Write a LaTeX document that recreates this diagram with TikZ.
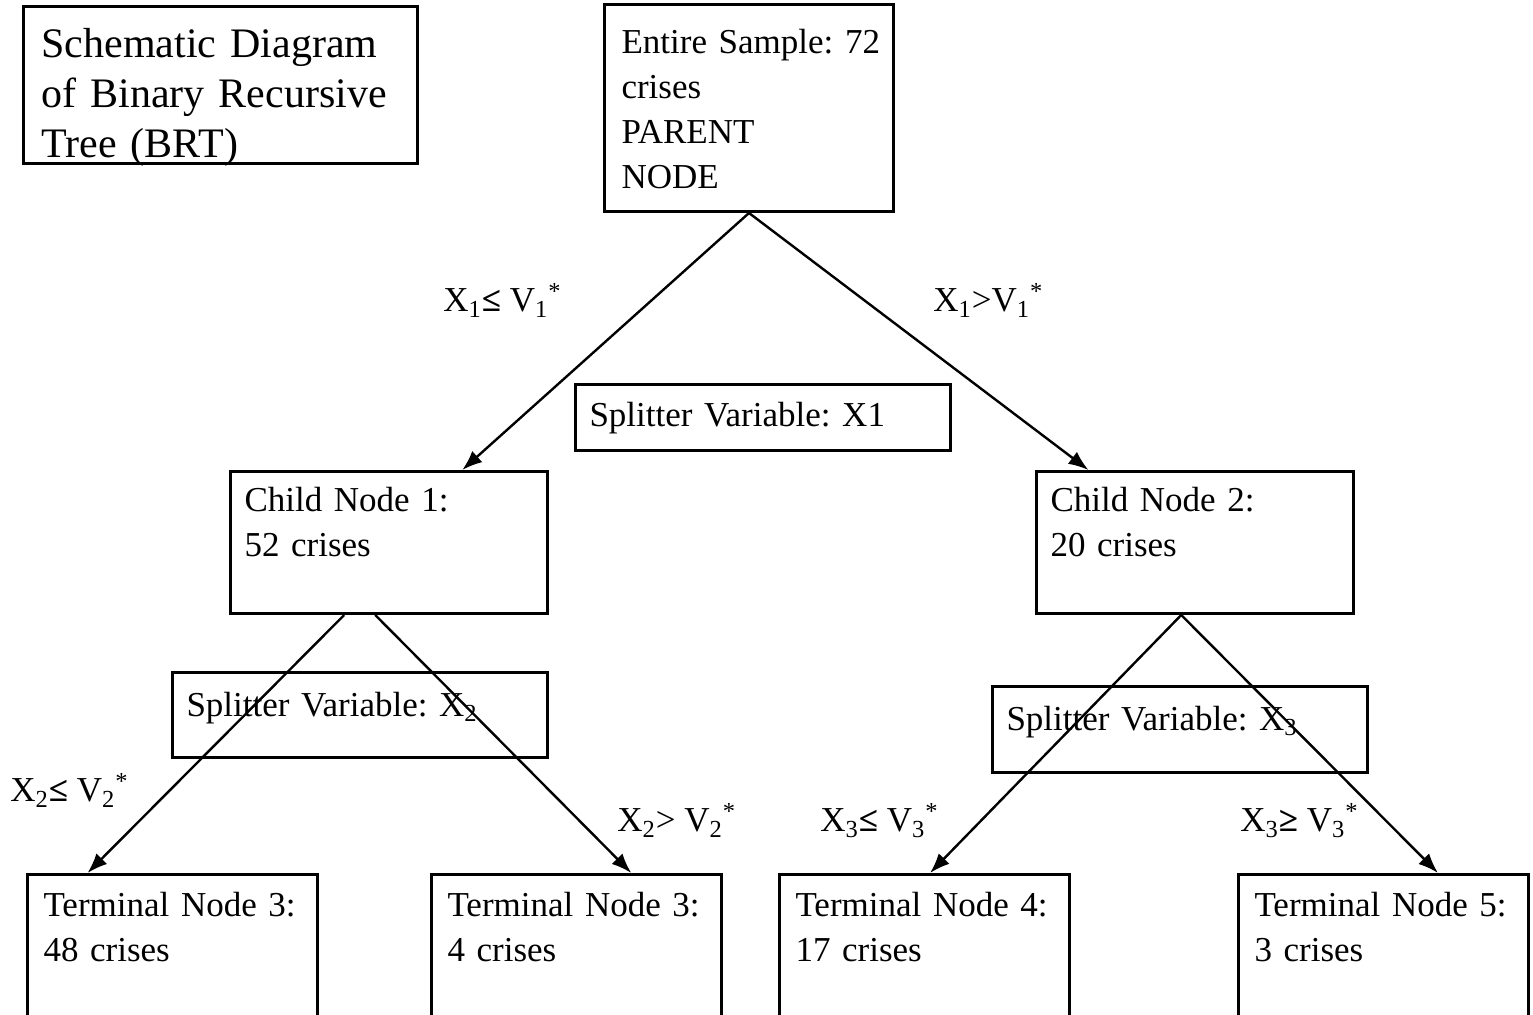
\documentclass[tikz,border=0pt]{standalone}
\usepackage{fontspec}
\setmainfont{Liberation Serif}
\usetikzlibrary{arrows.meta,calc}
\frenchspacing

\tikzset{
  box/.style={draw,line width=1.5pt,anchor=north west,align=left,
    inner ysep=0pt,inner xsep=7pt,text height=21pt,
    font=\fontsize{17.5}{22.5}\selectfont},
  cond/.style={anchor=base west,inner sep=0pt,font=\fontsize{17.5}{21}\selectfont},
}

\begin{document}
\begin{tikzpicture}[x=0.5pt,y=-0.5pt,>={Latex[length=10pt,width=7.5pt]}]

\useasboundingbox (0,0) rectangle (1533,1015);
\clip (0,0) rectangle (1533,1015);
\fill[white] (0,0) rectangle (1533,1015);

% boxes
\node[box,text width=179pt,inner xsep=9pt,text height=25.5pt,text depth=53pt,
  font=\fontsize{21}{25}\selectfont] (title) at (22,5)
  {Schematic Diagram\\of Binary Recursive\\Tree (BRT)};
\node[box,text width=127.5pt,inner xsep=8.5pt,text height=24.5pt,text depth=79pt] (parent) at (603,3)
  {\mbox{Entire Sample: 72}\\crises\\PARENT\\NODE};
\node[box,text width=173.5pt,text depth=12pt] (split1) at (574,383) {Splitter Variable: X1};
\node[box,text width=144.5pt,text height=20pt,text depth=51pt] (child1) at (229,470) {Child Node 1:\\52 crises};
\node[box,text width=144.5pt,text height=20pt,text depth=51pt] (child2) at (1035,470) {Child Node 2:\\20 crises};
\node[box,text width=173.5pt,text height=22pt,text depth=20.5pt] (split2) at (171,671)
  {Splitter Variable: X\textsubscript{2}};
\node[box,text width=173.5pt,text height=22pt,text depth=21pt] (split3) at (991,685)
  {Splitter Variable: X\textsubscript{3}};
\node[box,text width=129pt,inner xsep=8pt,text depth=80pt] (term1) at (26,873) {Terminal Node 3:\\48 crises};
\node[box,text width=129pt,inner xsep=8pt,text depth=80pt] (term2) at (430,873) {Terminal Node 3:\\4 crises};
\node[box,text width=129pt,inner xsep=8pt,text depth=80pt] (term3) at (778,873) {Terminal Node 4:\\17 crises};
\node[box,text width=129pt,inner xsep=8pt,text depth=80pt] (term4) at (1237,873) {Terminal Node 5:\\3 crises};

% split rules
\node[cond] (c1) at (443,312) {X\textsubscript{1}\textbf{≤} V\textsubscript{1}\textsuperscript{*}};
\node[cond] (c2) at (933,312) {X\textsubscript{1}>V\textsubscript{1}\textsuperscript{*}};
\node[cond] (c3) at (10,802) {X\textsubscript{2}\textbf{≤} V\textsubscript{2}\textsuperscript{*}};
\node[cond] (c4) at (617,832) {X\textsubscript{2}> V\textsubscript{2}\textsuperscript{*}};
\node[cond] (c5) at (820,832) {X\textsubscript{3}\textbf{≤} V\textsubscript{3}\textsuperscript{*}};
\node[cond] (c6) at (1240,832) {X\textsubscript{3}\textbf{≥} V\textsubscript{3}\textsuperscript{*}};

% branches
\foreach \p/\s/\c/\e in {parent/0.5/child1/0.729, parent/0.5/child2/0.167,
    child1/0.36/term1/0.21, child1/0.457/term2/0.687,
    child2/0.457/term3/0.519, child2/0.457/term4/0.686}{
  \draw[->,line width=1.2pt] ($(\p.south west)!\s!(\p.south east)$) -- ($(\c.north west)!\e!(\c.north east)$);
}

\end{tikzpicture}
\end{document}
